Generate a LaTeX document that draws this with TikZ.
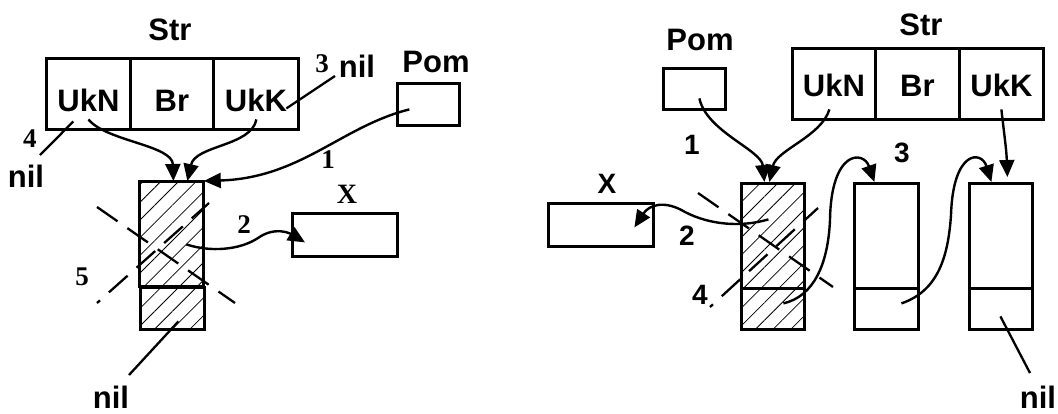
\documentclass[tikz,border=0pt]{standalone}
\usepackage{fontspec}
\newfontfamily\sansf{Liberation Sans}
\newfontfamily\seriff{Liberation Serif}
\usetikzlibrary{arrows.meta,patterns.meta}
\tikzset{
  lab/.style={font=\sansf\bfseries\fontsize{31}{31}\selectfont, inner sep=0pt, anchor=base},
  num/.style={font=\seriff\bfseries\fontsize{27}{27}\selectfont, inner sep=0pt, anchor=base},
  snum/.style={font=\sansf\bfseries\fontsize{28}{28}\selectfont, inner sep=0pt, anchor=base},
  box/.style={draw, line width=2.8pt, inner sep=0pt, anchor=north west},
  cellL/.style={box, font=\sansf\bfseries\fontsize{31}{31}\selectfont, text height=53pt, text depth=18pt},
  cellR/.style={box, font=\sansf\bfseries\fontsize{31}{31}\selectfont, text height=48pt, text depth=23pt},
  hatch/.style={pattern={Lines[angle=45,distance=12.5pt,line width=0.8pt]}},
  arr/.style={line width=2.4pt, -{Triangle[length=17pt,width=15pt]}},
  ln/.style={line width=2.3pt},
  dsh/.style={line width=2.3pt, dash pattern=on 25pt off 12pt},
}
\begin{document}
\begin{tikzpicture}[x=1pt,y=-1pt]
\useasboundingbox (0,0) rectangle (1058,413);
% ---------------- left diagram ----------------
\node[lab] (str1) at (170,40) {Str};
\node[cellL, minimum width=84pt] (ukn1) at (45,57) {UkN};
\node[cellL, minimum width=83pt] (br1) at (129,57) {Br};
\node[cellL, minimum width=85pt] (ukk1) at (212,57) {UkK};
\node[lab] (pomlab1) at (436,72) {Pom};
\node[box, minimum width=62pt, minimum height=42pt] (pom1) at (396,82) {};
\node[num] (three1) at (322,72) {3};
\node[lab] (nil3) at (357,77) {nil};
\node[num] (four1) at (30,147) {4};
\node[lab] (nil4) at (26,187) {nil};
\node[box, hatch, minimum width=64pt, minimum height=105pt] (lt) at (139,181) {};
\node[box, hatch, minimum width=64pt, minimum height=42pt] (lb) at (139,286) {};
\node[num] (one1) at (328,168) {1};
\node[num, font=\seriff\bfseries\fontsize{28}{28}\selectfont] (xlab1) at (347,203) {X};
\node[box, minimum width=105pt, minimum height=43pt] (x1) at (291,212) {};
\node[num] (two1) at (244,233) {2};
\node[num] (five1) at (82,285) {5};
\node[lab] (nilb1) at (111,408) {nil};
\coordinate (e3) at (335,76);
\coordinate (e4) at (40,155);
\coordinate (e5) at (129,375);
\coordinate (m2) at (258,238);
\coordinate (dA1) at (97,207);
\coordinate (dA2) at (235,303);
\coordinate (dB1) at (97,303);
\coordinate (dB2) at (209,203);
\draw[arr] ([shift={(0,25.5)}]ukn1.center) .. controls +(18,22) and +(-1,-36) .. ([xshift=2pt]lt.north);
\draw[arr] ([shift={(0.5,25.5)}]ukk1.center) .. controls +(-5,27) and +(8,-36) .. ([xshift=16pt]lt.north);
\draw[arr] ([shift={(-19,5)}]pom1.center) .. controls +(-68,17) and +(97,-3) .. (lt.north east);
\draw[arr] ([shift={(15,10.5)}]lt.center) .. controls +(24,8) and +(-18,12) .. (m2)
   .. controls +(17,-12) and +(-15,-9) .. ([shift={(14,7.5)}]x1.west);
\draw[ln] ([shift={(30.5,14.5)}]ukk1.center) -- (e3);
\draw[ln] ([shift={(-15,27.5)}]ukn1.center) -- (e4);
\draw[ln] ([shift={(6,13)}]lb.center) -- (e5);
\draw[dsh] (dA1) -- (dA2);
\draw[dsh, dash phase=21pt] (dB1) -- (dB2);
% ---------------- right diagram ----------------
\node[lab] (pomlab2) at (700,50) {Pom};
\node[box, minimum width=62pt, minimum height=41pt] (pom2) at (662,67) {};
\node[lab] (str2) at (921,35) {Str};
\node[cellR, minimum width=83pt] (ukn2) at (791,47) {UkN};
\node[cellR, minimum width=84pt] (br2) at (874,47) {Br};
\node[cellR, minimum width=84pt] (ukk2) at (958,47) {UkK};
\node[snum] (one2) at (692,154) {1};
\node[snum] (three2) at (902,162) {3};
\node[snum] (xlab2) at (607,193) {X};
\node[box, minimum width=105pt, minimum height=43pt] (x2) at (547,202) {};
\node[snum] (two2) at (687,245) {2};
\node[snum] (four2) at (700,304) {4};
\node[box, hatch, minimum width=63pt, minimum height=105pt] (rt) at (740,182) {};
\node[box, hatch, minimum width=63pt, minimum height=41pt] (rb) at (740,287) {};
\node[box, minimum width=64pt, minimum height=105pt] (n2t) at (853,182) {};
\node[box, minimum width=64pt, minimum height=41pt] (n2b) at (853,287) {};
\node[box, minimum width=63pt, minimum height=105pt] (n3t) at (968,182) {};
\node[box, minimum width=63pt, minimum height=41pt] (n3b) at (968,287) {};
\node[lab] (nilb2) at (1038,408) {nil};
\coordinate (m3) at (830,220);
\coordinate (m4) at (951,215);
\coordinate (m5) at (685,212);
\coordinate (e6) at (1030,373);
\coordinate (dC1) at (698,193);
\coordinate (dC2) at (833,287);
\coordinate (dD1) at (710,307);
\coordinate (dD2) at (818,208);
\draw[arr] ([shift={(5,9.5)}]pom2.center) .. controls +(7,33) and +(-3,-32) .. ([xshift=-8.5pt]rt.north);
\draw[arr] ([shift={(-4.5,25.5)}]ukn2.center) .. controls +(-8,27) and +(7,-32) .. ([xshift=-3.5pt]rt.north);
\draw[arr] ([shift={(0,25.5)}]ukk2.center) .. controls +(3,27) and +(-1,-28) .. ([shift={(6.5,-5)}]n3t.north);
\draw[arr] ([shift={(10.5,-5.5)}]rb.center) .. controls +(30,-7) and +(-2,45) .. (m3)
   .. controls +(1,-70) and +(-11,-32) .. ([xshift=-12pt]n2t.north);
\draw[arr] ([shift={(15,-5.5)}]n2b.center) .. controls +(35,-12) and +(-3,45) .. (m4)
   .. controls +(2,-65) and +(-10,-32) .. ([xshift=-9.5pt]n3t.north);
\draw[arr] ([shift={(-4.5,-16.5)}]rt.center) .. controls +(-27,8) and +(25,13) .. (m5)
   .. controls +(-20,-12) and +(15,-23) .. ([shift={(33.5,2.5)}]x2.center);
\draw[ln] ([shift={(-0.5,7.5)}]n3b.center) -- (e6);
\draw[dsh] (dC1) -- (dC2);
\draw[dsh, dash phase=21pt] (dD1) -- (dD2);
\end{tikzpicture}
\end{document}
